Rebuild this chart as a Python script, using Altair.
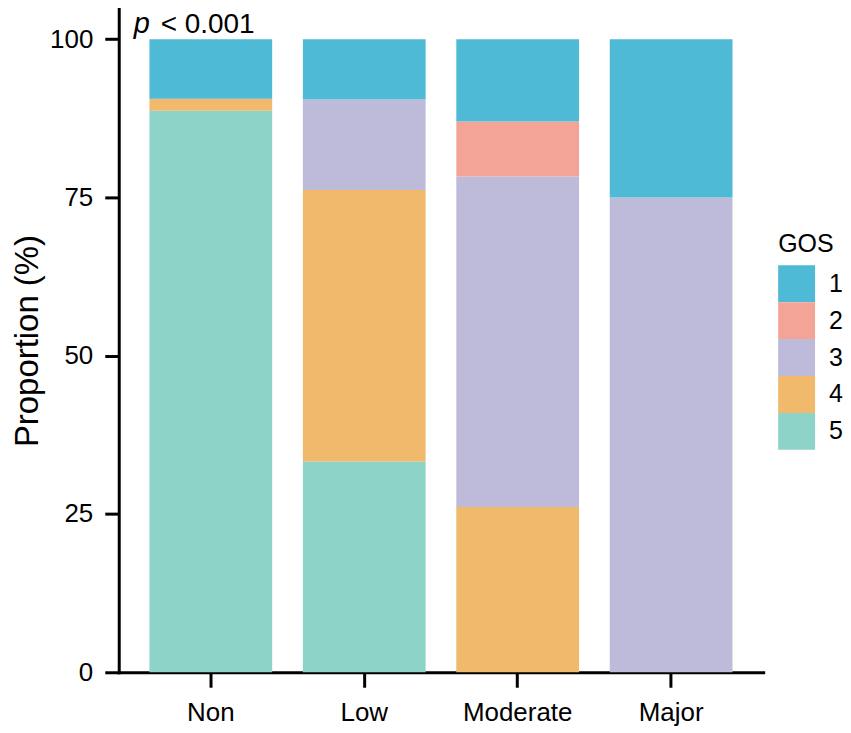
import altair as alt
import pandas as pd

groups = ["Non", "Low", "Moderate", "Major"]
gos_levels = ["1", "2", "3", "4", "5"]
colors = ["#4EBAD5", "#F4A497", "#BEBBDA", "#F0B96C", "#8ED3C7"]

non_vals = {"5": 88.7, "4": 1.9, "1": 9.4}
low_vals = {"5": 33.3, "4": 42.9, "3": 14.3, "1": 9.5}
mod_vals = {"4": 26.1, "3": 52.2, "2": 8.7, "1": 13.0}
maj_vals = {"3": 75.0, "1": 25.0}

rows = []
for g, vals in zip(groups, [non_vals, low_vals, mod_vals, maj_vals]):
    for k, v in vals.items():
        rows.append({"group": g, "GOS": k, "order": int(k), "value": v})
df = pd.DataFrame(rows)

FONT = "Liberation Sans"

bars = alt.Chart(df).mark_bar().encode(
    x=alt.X("group:N", sort=groups, title=None,
            scale=alt.Scale(paddingInner=0.2, paddingOuter=0.2),
            axis=alt.Axis(labelAngle=0, labelFontSize=26, labelFont=FONT, labelColor="black",
                          domainWidth=3, domainColor="black", tickWidth=3, tickColor="black",
                          tickSize=15, labelPadding=12)),
    y=alt.Y("value:Q", stack="zero", title="Proportion (%)",
            scale=alt.Scale(domain=[0, 104.8], nice=False),
            axis=alt.Axis(values=[0, 25, 50, 75, 100], grid=False, labelFontSize=26,
                          labelFont=FONT, labelColor="black", titleFont=FONT, titleFontSize=33,
                          titleFontWeight="normal", titleColor="black", domainWidth=3,
                          domainColor="black", tickWidth=3, tickColor="black", tickSize=14,
                          labelPadding=12, titlePadding=5)),
    color=alt.Color("GOS:N", scale=alt.Scale(domain=gos_levels, range=colors),
                    legend=alt.Legend(title="GOS", orient="none", legendX=661, legendY=224,
                                      symbolType="square", symbolSize=1369, symbolStrokeWidth=0,
                                      symbolOpacity=1, rowPadding=0, labelFontSize=25,
                                      labelFont=FONT, titleFont=FONT, titleFontSize=25,
                                      titleFontWeight="normal", labelColor="black",
                                      titleColor="black", labelOffset=14, titlePadding=8)),
    order=alt.Order("order:Q", sort="descending"),
)

p_text = alt.Chart(pd.DataFrame({"t": ["p"]})).mark_text(
    fontStyle="italic", fontSize=29, font=FONT, align="left", baseline="alphabetic", color="black"
).encode(x=alt.value(15), y=alt.value(24), text="t:N")

rest_text = alt.Chart(pd.DataFrame({"t": ["< 0.001"]})).mark_text(
    fontSize=28, font=FONT, align="left", baseline="alphabetic", color="black"
).encode(x=alt.value(42), y=alt.value(24), text="t:N")

chart = alt.layer(bars, p_text, rest_text).properties(
    width=646, height=665, padding={"left": 3, "top": 0, "right": 0, "bottom": 0}
).configure_view(stroke=None).configure_axis(domainCap="square")

chart.save("out.html", embed_options={"renderer": "svg", "actions": False})
